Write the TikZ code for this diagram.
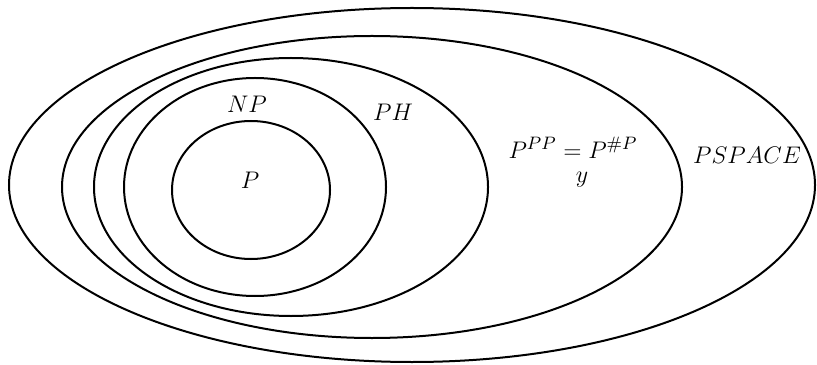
\documentclass[tikz,border=0pt]{standalone}
\usepackage{amsmath}
\usepackage{tikz}
\usetikzlibrary{positioning}

\begin{document}
\begin{tikzpicture}[
        x=0.5pt, y=0.5pt,
        cls/.style={
            draw=black,
            line width=1pt
        },
        lbl/.style={
            font=\fontsize{12.5}{14}\selectfont,
            inner sep=1pt
        }
    ]
    \useasboundingbox (0,0) rectangle (817,364);

    % nested classes
    \draw[cls] (412,179) ellipse (403 and 177);
    \draw[cls] (372,177) ellipse (310 and 151);
    \draw[cls] (291,177) ellipse (197 and 129);
    \draw[cls] (255,177) ellipse (131 and 109);
    \draw[cls] (251,174) ellipse (79 and 69);

    \node[lbl] (p) at (250,184) {$P$};
    \node[lbl] (np) at (247,260) {$NP$};
    \node[lbl] (ph) at (393,252) {$PH$};
    \node[lbl] (ppp) at (573,216) {$P^{PP} = P^{\#P}$};
    \node[lbl] (y) at (582,184) {$y$};
    \node[lbl] (pspace) at (747,209) {$PSPACE$};

    \end{tikzpicture}
\end{document}
